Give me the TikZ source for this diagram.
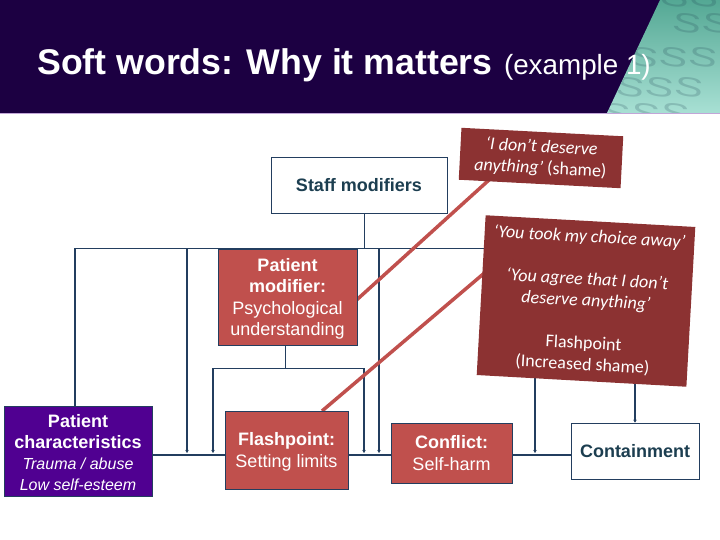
\documentclass[tikz,border=0pt]{standalone}
\usepackage{fontspec}
\setmainfont{Liberation Sans}
\newfontfamily\callfont{Carlito}
\usetikzlibrary{arrows.meta,backgrounds}
\definecolor{header}{RGB}{28,0,66}
\definecolor{ink}{RGB}{35,62,95}
\definecolor{tealink}{RGB}{28,62,80}
\definecolor{brick}{RGB}{192,80,77}
\definecolor{maroon}{RGB}{140,50,50}
\definecolor{violet0}{RGB}{80,0,145}
\definecolor{tealtop}{RGB}{84,168,148}
\definecolor{tealbot}{RGB}{168,224,212}
\newcommand{\dropstrut}{\rule{0pt}{17pt}}
\begin{document}
\begin{tikzpicture}[
  x=1pt,y=-1pt,
  >={Stealth[length=3pt,width=3.5pt]},
  whitebox/.style={draw=ink,line width=0.7pt,fill=white,align=center,inner sep=0pt,text=tealink,font=\fontsize{18}{22}\selectfont\bfseries},
  redbox/.style={draw=ink,line width=0.7pt,fill=brick,align=center,inner sep=0pt,text=white,font=\fontsize{18}{21.5}\selectfont},
  charbox/.style={draw=ink,line width=0.7pt,fill=violet0,align=center,inner sep=0pt,text=white,font=\fontsize{18}{21}\selectfont},
  callout/.style={fill=maroon,align=center,inner sep=0pt,text=white,font=\callfont\fontsize{18}{21.3}\selectfont},
  thinln/.style={ink,line width=0.8pt},
  flow/.style={ink,line width=1.5pt},
  drop/.style={->,ink,line width=1.5pt},
  slash/.style={brick,line width=3.5pt},
  sglyph/.style={text=tealink,opacity=0.2,font=\fontsize{27}{27}\selectfont,inner sep=0pt,rotate=-8},
]
\useasboundingbox (0,0) rectangle (720,540);
% header band
\fill[header] (0,0) rectangle (720,113);
\draw[violet0!35,line width=0.8pt] (0,113) -- (720,113);
\begin{scope}
  \clip (660,0) -- (720,0) -- (720,113) -- (607,113) -- cycle;
  \shade[top color=tealtop,bottom color=tealbot] (600,0) rectangle (720,113);
  \foreach \sy/\sx in {-3/675,23/687,57/644,87/630,113/616} {
    \foreach \k in {0,1,2} {
      \node[sglyph] (s\sy\k) at (\sx+\k*29.5,\sy) {\scalebox{1.6}[1]{S}};
    }
  }
\end{scope}
% title
\node[anchor=base west,inner sep=0pt,text=white,font=\fontsize{35.7}{40}\selectfont\bfseries] (title) at (37,75) {Soft words: Why it matters};
\node[anchor=base east,inner sep=0pt,text=white,font=\fontsize{27.8}{30}\selectfont] (subtitle) at (651,75) {(example 1)};
% boxes
\node[whitebox,minimum width=176pt,minimum height=56pt] (staff) at (359,185) {Staff modifiers};
\node[redbox,minimum width=139pt,minimum height=96pt] (pmod) at (287.5,297) {\dropstrut\textbf{Patient}\\\textbf{modifier:}\\Psychological\\understanding};
\node[charbox,minimum width=148pt,minimum height=90pt] (pchar) at (78,451) {\dropstrut\textbf{Patient}\\\textbf{characteristics}\\{\fontsize{16}{19.5}\selectfont\itshape Trauma / abuse}\\{\fontsize{16}{19.5}\selectfont\itshape Low self-esteem}};
\node[redbox,minimum width=123pt,minimum height=78pt] (flash) at (286.5,450) {\dropstrut\textbf{Flashpoint:}\\Setting limits};
\node[redbox,minimum width=121pt,minimum height=60pt] (confl) at (451.5,453) {\textbf{Conflict:}\\Self-harm};
\node[whitebox,minimum width=128pt,minimum height=56pt] (contain) at (635,451) {Containment};
% callouts
\node[callout,minimum width=162pt,minimum height=52pt,rotate=-3] (shame) at (541,158) {\textit{‘I don’t deserve}\\\textit{anything’} (shame)};
\node[callout,minimum width=210pt,minimum height=160pt,rotate=-3.2] (voices) at (586,301) {\textit{‘You took my choice away’}\\ \\\textit{‘You agree that I don’t}\\\textit{deserve anything’}\\ \\Flashpoint\\(Increased shame)};
% junctions
\coordinate (bustop) at (364,248);
\coordinate (busleft) at (75,248);
\coordinate (busright) at (500,248);
\coordinate (feedA) at (187,248);
\coordinate (feedB) at (379,248);
\coordinate (midtop) at (285,368);
\coordinate (midL) at (213,368);
\coordinate (midR) at (364,368);
\coordinate (mainy) at (0,455);
\coordinate (tipy) at (0,453);
\coordinate (slashA) at (340,315);
\coordinate (slashB) at (500,170);
\coordinate (slashC) at (322,411);
\coordinate (slashD) at (495,264);
\coordinate (leftdrop) at (535,360);
\coordinate (rightdrop) at (635,360);
\begin{scope}[on background layer]
  % connectors run under the boxes
  \draw[thinln] (staff.south -| bustop) -- (bustop);
  \draw[thinln] (busleft) -- (busright);
  \draw[flow] (busleft) -- (busleft |- pchar.north);
  \draw[drop] (feedA) -- (feedA |- tipy);
  \draw[drop] (feedB) -- (feedB |- tipy);
  \draw[thinln] (pmod.south -| midtop) -- (midtop);
  \draw[thinln] (midL) -- (midR);
  \draw[drop] (midL) -- (midL |- tipy);
  \draw[drop] (midR) -- (midR |- tipy);
  \draw[flow] (pchar.east |- mainy) -- (flash.west |- mainy);
  \draw[flow] (flash.east |- mainy) -- (confl.west |- mainy);
  \draw[flow] (confl.east |- mainy) -- (contain.west |- mainy);
  \draw[drop] (leftdrop) -- (leftdrop |- tipy);
  \draw[drop] (rightdrop) -- (contain.north -| rightdrop);
  % red slashes
  \draw[slash] (slashA) -- (slashB);
  \draw[slash] (slashC) -- (slashD);
\end{scope}
\end{tikzpicture}
\end{document}
